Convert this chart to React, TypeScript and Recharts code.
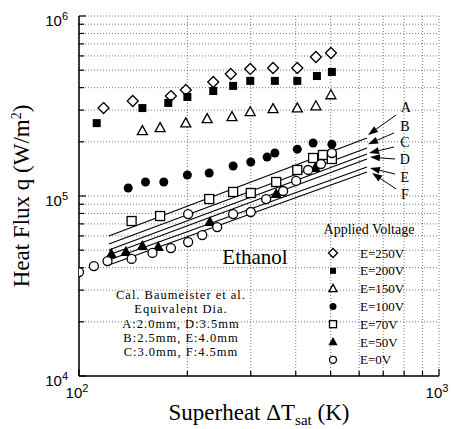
import React from "react"
import {
  ComposedChart, Scatter, Line, XAxis, YAxis, CartesianGrid,
  ReferenceLine, ReferenceDot, Legend, Label,
} from "recharts"

const W = 453
const H = 429
const SERIF = "Liberation Serif, Times New Roman, serif"
const SANS = "Liberation Sans, Arial, sans-serif"

// axis ticks (log decades + minor grid positions)
const xTicks = [100, 200, 300, 400, 500, 600, 700, 800, 900, 1000]
const xMajor = [100, 1000]
const xMajorExp = ["2", "3"]
const yTicks = [
  10000, 20000, 30000, 40000, 50000, 60000, 70000, 80000, 90000,
  100000, 200000, 300000, 400000, 500000, 600000, 700000, 800000, 900000, 1000000,
]
const yMajor = [10000, 100000, 1000000]
const yMajorExp = ["4", "5", "6"]

// measured points, superheat (K) / heat flux (W/m2)
const e250X = [117, 141, 180, 198, 236, 264, 299, 346, 404, 455, 501]
const e250Y = [308e3, 337e3, 359e3, 388e3, 430e3, 476e3, 508e3, 514e3, 514e3, 592e3, 623e3]

const e200X = [112, 150, 177, 200, 236, 268, 299, 350, 404, 458, 504]
const e200Y = [254e3, 308e3, 329e3, 355e3, 383e3, 409e3, 436e3, 436e3, 436e3, 464e3, 489e3]

const e150X = [150, 168, 198, 227, 266, 299, 346, 404, 455, 501]
const e150Y = [230e3, 239e3, 254e3, 268e3, 275e3, 293e3, 305e3, 308e3, 316e3, 364e3]

const e100X = [137, 153, 172, 200, 230, 268, 300, 333, 350, 404, 447, 504]
const e100Y = [110.8e3, 119.6e3, 119.6e3, 130.8e3, 134.3e3, 146.8e3, 154.4e3, 164.5e3, 173.3e3, 182e3, 197e3, 194e3]

const e70X = [140, 168, 230, 268, 300, 353, 404, 447, 476, 504]
const e70Y = [72.6e3, 77.4e3, 96.2e3, 105.3e3, 103.9e3, 119.6e3, 139.5e3, 162.6e3, 169e3, 160.5e3]

const e50X = [123, 135, 150, 166, 231, 353, 453]
const e50Y = [47.6e3, 48.9e3, 52.7e3, 52.1e3, 71.7e3, 102.6e3, 143.1e3]

const e0X = [100, 110, 120, 140, 160, 180, 201, 201, 220, 242, 268, 300, 331, 369, 401, 433, 470, 504]
const e0Y = [37.8e3, 40.8e3, 43.5e3, 44.7e3, 48.3e3, 51.4e3, 55.5e3, 79.4e3, 60.7e3, 67.2e3, 79.4e3, 81.5e3, 96.2e3, 106.6e3, 121.2e3, 139.5e3, 150.6e3, 173.3e3]

// Baumeister correlation lines A..F (two end points each)
const lineDT = [121, 631]
const lineA = [59.9e3, 210e3]
const lineB = [54.1e3, 184.8e3]
const lineC = [50.1e3, 171.1e3]
const lineD = [47.0e3, 160.5e3]
const lineE = [44.1e3, 144.9e3]
const lineF = [41.4e3, 135.9e3]

// arrow labels
const arrowNames = ["A", "B", "C", "D", "E", "F"]
const arrowTailX = [760, 750, 750, 755, 755, 760]
const arrowTailY = [281.8e3, 224e3, 187.2e3, 160.5e3, 132.5e3, 109.4e3]
const arrowTipX = [635, 635, 639, 643, 643, 652]
const arrowTipY = [218.3e3, 194e3, 173.3e3, 164.5e3, 143.1e3, 134.3e3]
const letterX = [809, 804, 804, 804, 804, 804]
const letterY = [312e3, 245e3, 199.5e3, 160.5e3, 127.6e3, 102.6e3]

const zip = (xs: number[], ys: number[]) => xs.map((x, i) => ({ x, y: ys[i] }))

type Kind = "diamond" | "squareF" | "squareO" | "triF" | "triO" | "circleF" | "circleO"

const series: { name: string; kind: Kind; size: number; data: { x: number; y: number }[] }[] = [
  { name: "E=250V", kind: "diamond", size: 11, data: zip(e250X, e250Y) },
  { name: "E=200V", kind: "squareF", size: 8, data: zip(e200X, e200Y) },
  { name: "E=150V", kind: "triO", size: 10, data: zip(e150X, e150Y) },
  { name: "E=100V", kind: "circleF", size: 9, data: zip(e100X, e100Y) },
  { name: "E=70V", kind: "squareO", size: 9, data: zip(e70X, e70Y) },
  { name: "E=50V", kind: "triF", size: 9, data: zip(e50X, e50Y) },
  { name: "E=0V", kind: "circleO", size: 9, data: zip(e0X, e0Y) },
]

const lines = [lineA, lineB, lineC, lineD, lineE, lineF].map((ys) => zip(lineDT, ys))

function Marker({ kind, cx, cy, s }: { kind: Kind; cx: number; cy: number; s: number }) {
  const h = s / 2
  const sw = 1.3
  switch (kind) {
    case "diamond":
      return <polygon points={`${cx},${cy - h} ${cx + h},${cy} ${cx},${cy + h} ${cx - h},${cy}`} fill="#fff" stroke="#000" strokeWidth={sw} />
    case "squareF":
      return <rect x={cx - h} y={cy - h} width={s} height={s} fill="#000" />
    case "squareO":
      return <rect x={cx - h} y={cy - h} width={s} height={s} fill="#fff" stroke="#000" strokeWidth={sw} />
    case "triF":
    case "triO":
      return (
        <polygon
          points={`${cx},${cy - h * 1.05} ${cx + h},${cy + h * 0.75} ${cx - h},${cy + h * 0.75}`}
          fill={kind === "triF" ? "#000" : "#fff"}
          stroke="#000"
          strokeWidth={sw}
        />
      )
    case "circleF":
      return <circle cx={cx} cy={cy} r={h} fill="#000" />
    default:
      return <circle cx={cx} cy={cy} r={h} fill="#fff" stroke="#000" strokeWidth={sw} />
  }
}

const XTick = (p: any) => {
  const { x, y, payload, side } = p
  const i = xMajor.indexOf(payload.value)
  const len = i >= 0 ? 7 : 5
  const d = side === "top" ? 1 : -1
  return (
    <g>
      <line x1={x} y1={y} x2={x} y2={y + d * len} stroke="#000" strokeWidth={1.2} />
      {side === "bottom" && i >= 0 && (
        <text x={x - 2} y={y + 22} textAnchor="middle" fontFamily={SANS} fontSize={15} fill="#000">
          10<tspan dy={-6} fontSize={11}>{xMajorExp[i]}</tspan>
        </text>
      )}
    </g>
  )
}

const YTick = (p: any) => {
  const { x, y, payload, side } = p
  const i = yMajor.indexOf(payload.value)
  const len = i >= 0 ? 7 : 5
  const d = side === "right" ? -1 : 1
  return (
    <g>
      <line x1={x} y1={y} x2={x + d * len} y2={y} stroke="#000" strokeWidth={1.2} />
      {side === "left" && i >= 0 && (
        <text x={x - 11} y={y + 10} textAnchor="end" fontFamily={SANS} fontSize={15} fill="#000">
          10<tspan dy={-6} fontSize={11}>{yMajorExp[i]}</tspan>
        </text>
      )}
    </g>
  )
}

const XTitle = (p: any) => {
  const vb = p.viewBox
  return (
    <text x={vb.x + vb.width / 2} y={vb.y + 44} textAnchor="middle" fontFamily={SERIF} fontSize={23} fill="#000">
      Superheat ΔT<tspan dy={5} fontSize={15}>sat</tspan>
      <tspan dy={-5}> (K)</tspan>
    </text>
  )
}

const YTitle = (p: any) => {
  const vb = p.viewBox
  const cx = vb.x + vb.width - 50
  const cy = vb.y + vb.height / 2
  return (
    <text transform={`translate(${cx},${cy}) rotate(-90)`} textAnchor="middle" fontFamily={SERIF} fontSize={23} fill="#000">
      Heat Flux q (W/m<tspan dy={-8} fontSize={14}>2</tspan>
      <tspan dy={8}>)</tspan>
    </text>
  )
}

const Arrow = (p: any) => {
  const { x1, y1, x2, y2 } = p
  const dx = x2 - x1
  const dy = y2 - y1
  const L = Math.hypot(dx, dy) || 1
  const ux = dx / L
  const uy = dy / L
  const hl = 10
  const hw = 3.5
  const bx = x2 - ux * hl
  const by = y2 - uy * hl
  return (
    <g>
      <line x1={x1} y1={y1} x2={bx} y2={by} stroke="#000" strokeWidth={1} />
      <polygon points={`${x2},${y2} ${bx - uy * hw},${by + ux * hw} ${bx + uy * hw},${by - ux * hw}`} fill="#000" />
    </g>
  )
}

const LegendBox = () => (
  <svg width={110} height={150}>
    <text x={51} y={14} textAnchor="middle" fontFamily={SERIF} fontSize={14} fill="#000">Applied Voltage</text>
    {series.map((s, i) => {
      const cy = 33 + i * 17.8
      return (
        <g key={s.name}>
          <Marker kind={s.kind} cx={15} cy={cy} s={s.size - 2} />
          <text x={42} y={cy + 4.5} fontFamily={SERIF} fontSize={13} fill="#000">{s.name}</text>
        </g>
      )
    })}
  </svg>
)

const calcLines = [
  "Cal. Baumeister et al.",
  "Equivalent Dia.",
  "A:2.0mm, D:3.5mm",
  "B:2.5mm, E:4.0mm",
  "C:3.0mm, F:4.5mm",
]
const calcBaselines = [299, 313.3, 327.6, 341.9, 356.2]

export default function App() {
  const axisLine = { stroke: "#000", strokeWidth: 1.5 }
  return (
    <div style={{ position: "relative", width: W, height: H }}>
      <style>{"body{margin:0;overflow:hidden}"}</style>
      <ComposedChart width={W} height={H} margin={{ top: 16, right: 14, bottom: 23, left: 19 }}>
        <CartesianGrid stroke="#555" strokeDasharray="1 2" strokeWidth={0.8} />
        <XAxis
          dataKey="x" type="number" scale="log" domain={[100, 1000]} ticks={xTicks} interval={0}
          allowDataOverflow height={30} tickSize={0} tickMargin={0} tickLine={false} axisLine={axisLine}
          tick={(p: any) => <XTick {...p} side="bottom" />}
        >
          <Label content={XTitle} />
        </XAxis>
        <XAxis
          xAxisId="top" orientation="top" type="number" scale="log" domain={[100, 1000]} ticks={xTicks}
          interval={0} allowDataOverflow height={0} tickSize={0} tickMargin={0} tickLine={false} axisLine={axisLine}
          tick={(p: any) => <XTick {...p} side="top" />}
        />
        <YAxis
          dataKey="y" type="number" scale="log" domain={[10000, 1000000]} ticks={yTicks} interval={0}
          allowDataOverflow width={60} tickSize={0} tickMargin={0} tickLine={false} axisLine={axisLine}
          tick={(p: any) => <YTick {...p} side="left" />}
        >
          <Label content={YTitle} />
        </YAxis>
        <YAxis
          yAxisId="right" orientation="right" type="number" scale="log" domain={[10000, 1000000]} ticks={yTicks}
          interval={0} allowDataOverflow width={0} tickSize={0} tickMargin={0} tickLine={false} axisLine={axisLine}
          tick={(p: any) => <YTick {...p} side="right" />}
        />

        {lines.map((d, i) => (
          <Line
            key={arrowNames[i]} data={d} dataKey="y" type="linear" stroke="#000" strokeWidth={1.2}
            dot={false} activeDot={false} legendType="none" isAnimationActive={false}
          />
        ))}

        {series.map((s) => (
          <Scatter
            key={s.name} name={s.name} data={s.data} dataKey="y" isAnimationActive={false}
            shape={(p: any) => <Marker kind={s.kind} cx={p.cx} cy={p.cy} s={s.size} />}
          />
        ))}

        {arrowNames.map((n, i) => (
          <ReferenceLine
            key={"arr" + n} ifOverflow="visible"
            segment={[{ x: arrowTailX[i], y: arrowTailY[i] }, { x: arrowTipX[i], y: arrowTipY[i] }]}
            shape={Arrow}
          />
        ))}
        {arrowNames.map((n, i) => (
          <ReferenceDot
            key={"lbl" + n} x={letterX[i]} y={letterY[i]} r={0} ifOverflow="visible"
            shape={(p: any) => (
              <text x={p.cx} y={p.cy + 5} textAnchor="middle" fontFamily={SERIF} fontSize={14} fill="#000">{n}</text>
            )}
          />
        ))}

        <Legend
          layout="vertical" align="center" verticalAlign="middle" content={LegendBox}
          wrapperStyle={{ left: 318, top: 220, width: 110, height: 150 }}
        />
      </ComposedChart>
      <svg width={W} height={H} style={{ position: "absolute", left: 0, top: 0, pointerEvents: "none" }}>
        <text x={255} y={264} textAnchor="middle" fontFamily={SERIF} fontSize={21} fill="#000">Ethanol</text>
        {calcLines.map((t, i) => (
          <text
            key={t} x={181} y={calcBaselines[i]} textAnchor="middle" fontFamily={SERIF}
            fontSize={12.5} letterSpacing={1} fill="#000"
          >
            {t}
          </text>
        ))}
      </svg>
    </div>
  )
}
